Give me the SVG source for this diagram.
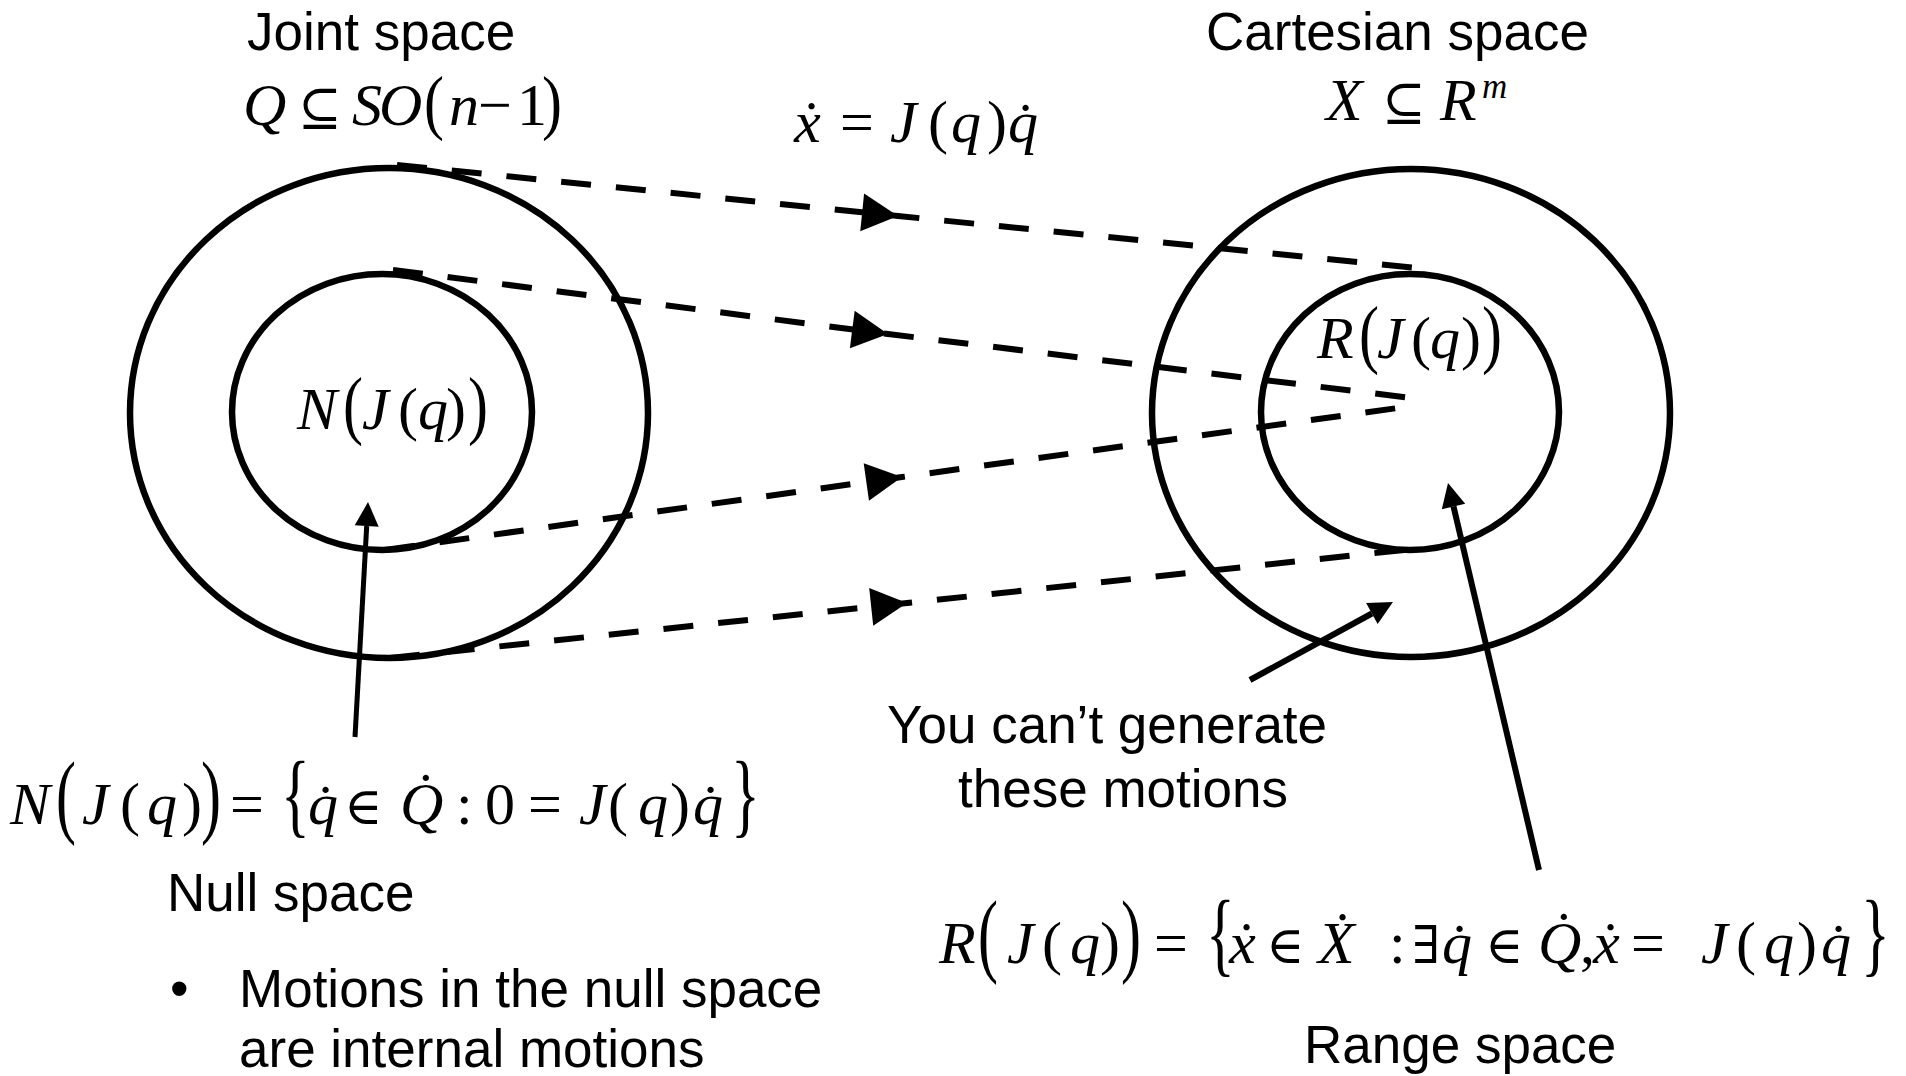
<svg xmlns="http://www.w3.org/2000/svg" width="1906" height="1076" viewBox="0 0 1906 1076">
<style>
.sans{font-family:"Liberation Sans",Arial,sans-serif;font-size:53px;fill:#000}
.math{font-family:"Liberation Serif","DejaVu Serif",serif;font-size:60px;fill:#000}
.it{font-style:italic}
.op{font-family:"DejaVu Serif","Liberation Serif",serif;font-size:52px}
.ring{fill:none;stroke:#000;stroke-width:6.5}
.dash{fill:none;stroke:#000;stroke-width:6;stroke-dasharray:30 25;marker-mid:url(#tri)}
.solid{fill:none;stroke:#000;stroke-width:6;marker-end:url(#head)}
</style>
<defs>
<marker id="tri" markerUnits="userSpaceOnUse" viewBox="0 -19 36 38" markerWidth="36" markerHeight="38" refX="36" refY="0" orient="auto" overflow="visible">
<path d="M0,-19 L36,0 L0,19 z" fill="#000"/>
</marker>
<marker id="head" markerUnits="userSpaceOnUse" viewBox="0 -12 24 24" markerWidth="24" markerHeight="24" refX="0" refY="0" orient="auto" overflow="visible">
<path d="M0,-12 L24,0 L0,12 z" fill="#000"/>
</marker>
</defs>
<rect width="1906" height="1076" fill="#fff"/>

<g id="joint-space-label">
<text class="sans" x="247" y="50">Joint space</text>
<text class="math" y="125"><tspan class="it" x="243">Q</tspan><tspan class="op" x="298">⊆</tspan><tspan class="it" x="352">S</tspan><tspan class="it" x="379">O</tspan><tspan class="it" x="449">n</tspan><tspan x="478">−</tspan><tspan x="517">1</tspan></text>
<text class="math" transform="translate(424,126) scale(1,1.19)">(</text>
<text class="math" transform="translate(542,126) scale(1,1.19)">)</text>
</g>

<g id="mapping-label">
<text class="math" y="142"><tspan class="it" x="794">ẋ</tspan><tspan x="840">=</tspan><tspan class="it" x="890">J</tspan><tspan x="928">(</tspan><tspan class="it" x="951">q</tspan><tspan x="987">)</tspan><tspan class="it" x="1008">q̇</tspan></text>
</g>

<g id="cartesian-space-label">
<text class="sans" x="1206" y="50">Cartesian space</text>
<text class="math" y="120"><tspan class="it" x="1326">X</tspan><tspan class="op" x="1382">⊆</tspan><tspan class="it" x="1440">R</tspan><tspan class="it" x="1482" y="98" font-size="35">m</tspan></text>
</g>

<g id="joint-space">
<ellipse class="ring" cx="389" cy="413" rx="259" ry="245"/>
</g>
<g id="null-space">
<ellipse class="ring" cx="382" cy="412" rx="150" ry="138"/>
<text class="math" y="429"><tspan class="it" x="297">N</tspan><tspan class="it" x="362">J</tspan><tspan x="398">(</tspan><tspan class="it" x="418">q</tspan><tspan x="446">)</tspan></text>
<text class="math" transform="translate(343,430) scale(1,1.28)">(</text>
<text class="math" transform="translate(468,430) scale(1,1.28)">)</text>
</g>

<g id="cartesian-space">
<ellipse class="ring" cx="1411" cy="413" rx="259" ry="244"/>
</g>
<g id="range-space">
<ellipse class="ring" cx="1410" cy="412" rx="149" ry="138"/>
<text class="math" y="358"><tspan class="it" x="1317">R</tspan><tspan class="it" x="1377">J</tspan><tspan x="1411">(</tspan><tspan class="it" x="1430">q</tspan><tspan x="1461">)</tspan></text>
<text class="math" transform="translate(1359,359) scale(1,1.28)">(</text>
<text class="math" transform="translate(1482,359) scale(1,1.28)">)</text>
</g>

<g id="null-space-definition">
<text class="math" y="824"><tspan class="it" x="10">N</tspan><tspan class="it" x="82">J</tspan><tspan x="120">(</tspan><tspan class="it" x="147">q</tspan><tspan x="182">)</tspan><tspan x="230">=</tspan><tspan class="it" x="308">q̇</tspan><tspan class="op" x="344">∈</tspan><tspan class="it" x="400">Q̇</tspan><tspan x="456">:</tspan><tspan x="485">0</tspan><tspan x="528">=</tspan><tspan class="it" x="579">J</tspan><tspan x="608">(</tspan><tspan class="it" x="638">q</tspan><tspan x="670">)</tspan><tspan class="it" x="693">q̇</tspan></text>
<text class="math" transform="translate(56,826) scale(1,1.57)">(</text>
<text class="math" transform="translate(201,826) scale(1,1.57)">)</text>
<text class="math" transform="translate(281,826) scale(1,1.57)">{</text>
<text class="math" transform="translate(731,826) scale(1,1.57)">}</text>
<text class="sans" x="167" y="911">Null space</text>
<text class="sans" x="170" y="1007">•</text>
<text class="sans" x="239" y="1007">Motions in the null space</text>
<text class="sans" x="239" y="1067">are internal motions</text>
</g>

<g id="unreachable-note">
<text class="sans" x="887" y="743">You can’t generate</text>
<text class="sans" x="958" y="807">these motions</text>
</g>

<g id="range-space-definition">
<text class="math" y="963"><tspan class="it" x="939">R</tspan><tspan class="it" x="1007">J</tspan><tspan x="1042">(</tspan><tspan class="it" x="1070">q</tspan><tspan x="1100">)</tspan><tspan x="1154">=</tspan><tspan class="it" x="1229">ẋ</tspan><tspan class="op" x="1266">∈</tspan><tspan class="it" x="1318">Ẋ</tspan><tspan x="1389">:</tspan><tspan class="op" x="1412">∃</tspan><tspan class="it" x="1442">q̇</tspan><tspan class="op" x="1485">∈</tspan><tspan class="it" x="1538">Q̇</tspan><tspan x="1580">,</tspan><tspan class="it" x="1593">ẋ</tspan><tspan x="1631">=</tspan><tspan class="it" x="1701">J</tspan><tspan x="1736">(</tspan><tspan class="it" x="1764">q</tspan><tspan x="1797">)</tspan><tspan class="it" x="1821">q̇</tspan></text>
<text class="math" transform="translate(978,965) scale(1,1.57)">(</text>
<text class="math" transform="translate(1121,965) scale(1,1.57)">)</text>
<text class="math" transform="translate(1206,965) scale(1,1.57)">{</text>
<text class="math" transform="translate(1861,965) scale(1,1.57)">}</text>
<text class="sans" x="1304" y="1063">Range space</text>
</g>

<g id="connectors">
<path class="dash" d="M397,165 L898,216 L1417,268"/>
<path class="dash" d="M393,270 L888,334 L1420,399"/>
<path class="dash" d="M385,550 L902,477 L1412,406"/>
<path class="dash" d="M390,658 L907,603 L1413,549"/>
<path class="solid" style="stroke-width:5" d="M355,737 L366.7,526"/>
<path class="solid" d="M1250,680 L1371.9,613.5"/>
<path class="solid" d="M1539,870 L1453.5,506.4"/>
</g>
</svg>
